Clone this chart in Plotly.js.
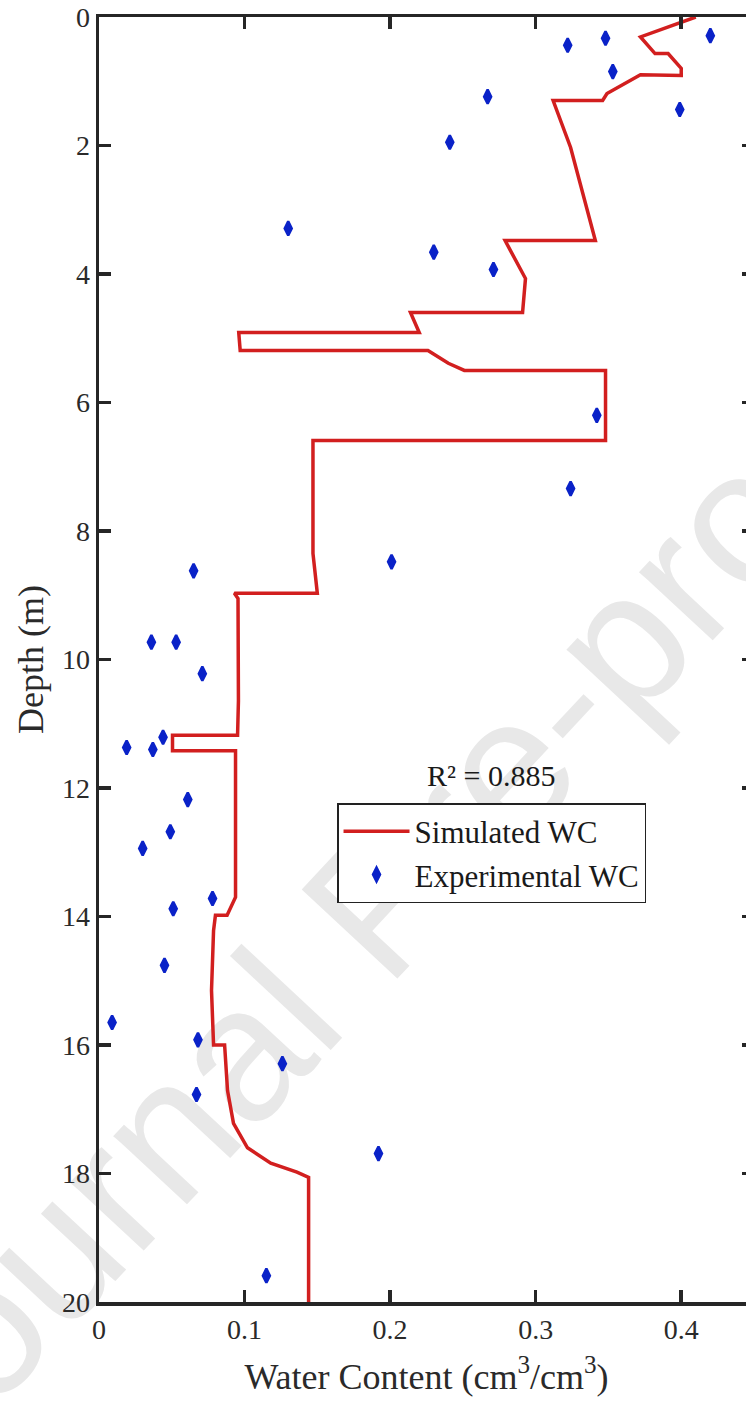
<!DOCTYPE html>
<html>
<head>
<meta charset="utf-8">
<script src="https://cdn.plot.ly/plotly-3.0.1.min.js"></script>
<style>
html, body { margin: 0; padding: 0; overflow: hidden; background: #ffffff; }
#chart { width: 760px; height: 1407px; }
</style>
</head>
<body>
<div id="chart"></div>
<script>
// Simulated water content profile (cm3/cm3) vs depth (m)
const simWC = [0.410, 0.372, 0.382, 0.391, 0.400, 0.400, 0.372, 0.349, 0.346, 0.312,
  0.324, 0.341, 0.279, 0.293, 0.291, 0.214, 0.220, 0.096, 0.097, 0.226,
  0.240, 0.251, 0.348, 0.348, 0.147, 0.147, 0.150, 0.093, 0.0955, 0.0958,
  0.0952, 0.0505, 0.0505, 0.0938, 0.0938, 0.088, 0.080, 0.0787, 0.0773, 0.0787,
  0.0863, 0.0883, 0.0924, 0.102, 0.118, 0.136, 0.144, 0.144];
const simDepth = [0.00, 0.31, 0.57, 0.57, 0.80, 0.91, 0.90, 1.19, 1.30, 1.30,
  2.03, 3.48, 3.48, 4.07, 4.60, 4.60, 4.91, 4.91, 5.19, 5.19,
  5.39, 5.50, 5.50, 6.59, 6.59, 8.35, 8.97, 8.97, 9.05, 10.64,
  11.18, 11.18, 11.42, 11.42, 13.70, 13.98, 13.98, 14.22, 15.15, 16.00,
  16.00, 16.71, 17.22, 17.60, 17.84, 17.98, 18.06, 20.00];

// Experimental water content measurements
const expWC = [0.420, 0.348, 0.322, 0.353, 0.399, 0.267, 0.241, 0.130, 0.230, 0.271,
  0.342, 0.324, 0.201, 0.065, 0.036, 0.053, 0.071, 0.044, 0.019, 0.037,
  0.061, 0.049, 0.030, 0.078, 0.051, 0.045, 0.009, 0.068, 0.126, 0.067,
  0.192, 0.115];
const expDepth = [0.29, 0.33, 0.44, 0.85, 1.44, 1.24, 1.95, 3.29, 3.66, 3.93,
  6.20, 7.34, 8.48, 8.62, 9.73, 9.73, 10.22, 11.21, 11.37, 11.40,
  12.18, 12.68, 12.94, 13.72, 13.88, 14.76, 15.65, 15.92, 16.29, 16.77,
  17.69, 19.59];

const xTickVals = [0, 0.1, 0.2, 0.3, 0.4];
const xTickText = ['0', '0.1', '0.2', '0.3', '0.4'];
const yTickVals = [0, 2, 4, 6, 8, 10, 12, 14, 16, 18, 20];
const yTickText = ['0', '2', '4', '6', '8', '10', '12', '14', '16', '18', '20'];

const serif = '"Liberation Serif", "Times New Roman", serif';
const textColor = '#2a2a2a';
const axisColor = '#262626';

const traces = [
  {
    x: simWC, y: simDepth, type: 'scatter', mode: 'lines',
    name: 'Simulated WC',
    line: { color: '#d21f1f', width: 3.5 }
  },
  {
    x: expWC, y: expDepth, type: 'scatter', mode: 'markers',
    name: 'Experimental WC',
    marker: { symbol: 'diamond-tall', size: 10, color: '#0a22c8', line: { color: '#0a22c8', width: 2.5 } }
  }
];

const axisCommon = {
  showline: true, linewidth: 3.5, linecolor: axisColor, mirror: 'ticks',
  ticks: 'inside', ticklen: 12, tickwidth: 3.5, tickcolor: axisColor,
  showgrid: false, zeroline: false,
  tickfont: { family: serif, size: 28, color: textColor }
};

const layout = {
  width: 760, height: 1407,
  margin: { l: 99, r: 6, t: 17, b: 105 },
  paper_bgcolor: '#ffffff', plot_bgcolor: 'rgba(0,0,0,0)',
  showlegend: true,
  xaxis: Object.assign({}, axisCommon, {
    range: [0, 0.45], tickmode: 'array', tickvals: xTickVals, ticktext: xTickText,
    title: { text: 'Water Content (cm<sup>3</sup>/cm<sup>3</sup>)', font: { family: serif, size: 36, color: textColor }, standoff: 20 }
  }),
  yaxis: Object.assign({}, axisCommon, {
    range: [20, 0], tickmode: 'array', tickvals: yTickVals, ticktext: yTickText,
    title: { text: 'Depth (m)', font: { family: serif, size: 36, color: textColor }, standoff: 8 }
  }),
  legend: {
    x: 0.3634, y: 0.3883, xanchor: 'left', yanchor: 'top',
    bgcolor: '#ffffff', bordercolor: '#222222', borderwidth: 1.5,
    itemwidth: 66,
    font: { family: serif, size: 31, color: '#1a1a1a' }
  },
  annotations: [
    {
      xref: 'paper', yref: 'paper', x: 0.598, y: 0.41, xanchor: 'center', yanchor: 'middle',
      text: 'R² = 0.885', showarrow: false,
      font: { family: serif, size: 30, color: '#1a1a1a' }
    }
  ],
  shapes: [
    {
      type: 'line', xref: 'paper', yref: 'paper', layer: 'below',
      x0: 0.0931, y0: 0.150, x1: 0.719, y1: 0.491,
      line: { width: 0, color: 'rgba(0,0,0,0)' },
      label: {
        text: 'Journal Pre-proof', textposition: 'middle', yanchor: 'middle',
        textangle: -47,
        font: { family: '"Liberation Sans", Arial, sans-serif', size: 190, color: '#e8e8e8' }
      }
    }
  ]
};

Plotly.newPlot('chart', traces, layout, { staticPlot: true, displayModeBar: false });
</script>
</body>
</html>
